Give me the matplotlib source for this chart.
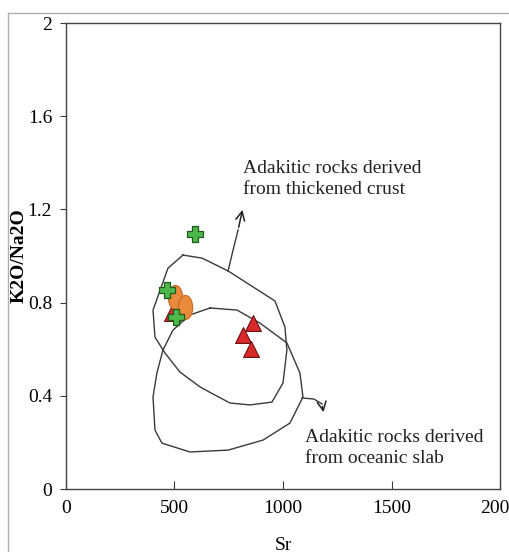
import numpy as np
import matplotlib
matplotlib.use("Agg")
import matplotlib.pyplot as plt
from matplotlib.path import Path
from matplotlib.transforms import Affine2D
from matplotlib.lines import Line2D

plt.rcParams['font.family'] = ['Liberation Serif', 'DejaVu Serif']

# Sample data
cross_sr = [594, 464, 507]
cross_k = [1.094, 0.854, 0.738]
circle_sr = [502, 548]
circle_k = [0.824, 0.781]
tri_sr = [488, 862, 816, 853]
tri_k = [0.755, 0.712, 0.661, 0.601]

# Field outlines
crust_sr = [539, 470, 401, 410, 456, 525, 618, 687, 756, 848, 949, 1000, 1018,
            1009, 963, 747, 627, 539]
crust_k = [1.004, 0.948, 0.768, 0.652, 0.584, 0.502, 0.438, 0.403, 0.369, 0.361,
           0.373, 0.455, 0.597, 0.695, 0.807, 0.936, 0.991, 1.004]
slab_sr = [664, 788, 894, 1018, 1078, 1092, 1032, 908, 747, 571, 442, 410, 401,
           419, 447, 493, 571, 664]
slab_k = [0.777, 0.768, 0.712, 0.627, 0.498, 0.395, 0.283, 0.210, 0.167, 0.159,
          0.197, 0.253, 0.395, 0.498, 0.597, 0.682, 0.747, 0.777]

# Leader lines
arrow1_sr = [747, 770, 793, 816]
arrow1_k = [0.936, 1.026, 1.112, 1.21]
arrow2_sr = [1087, 1143, 1180, 1189]
arrow2_k = [0.391, 0.386, 0.365, 0.318]

fig = plt.figure(figsize=(5.1, 5.52), dpi=100)
ax = fig.add_axes([0.1294, 0.1141, 0.8510, 0.8442])

# light frame around the picture
fig.add_artist(Line2D([8 / 510, 8 / 510], [0, 1 - 13 / 552], transform=fig.transFigure,
                      color='#b0b0b0', lw=1))
fig.add_artist(Line2D([8 / 510, 1], [1 - 13 / 552, 1 - 13 / 552], transform=fig.transFigure,
                      color='#b0b0b0', lw=1))

line_col = '#3a3a3a'
ax.plot(crust_sr, crust_k, color=line_col, lw=1.0)
ax.plot(slab_sr, slab_k, color=line_col, lw=1.0)

ax.plot(arrow1_sr[:-1], arrow1_k[:-1], color=line_col, lw=1.0)
ax.annotate('', xy=(arrow1_sr[-1], arrow1_k[-1]), xytext=(arrow1_sr[-2], arrow1_k[-2]),
            arrowprops=dict(arrowstyle='->', color='#222222', lw=1.1, mutation_scale=16))
ax.plot(arrow2_sr[:-1], arrow2_k[:-1], color=line_col, lw=1.0)
ax.annotate('', xy=(arrow2_sr[-1], arrow2_k[-1]), xytext=(arrow2_sr[-2], arrow2_k[-2]),
            arrowprops=dict(arrowstyle='->', color='#222222', lw=1.1, mutation_scale=16))

# tall oval marker
oval = Path.unit_circle().transformed(Affine2D().scale(0.6, 1.0))

ax.scatter(tri_sr, tri_k, marker='^', s=130, color='#d9292b', edgecolor='#6b1010',
           linewidths=0.8, zorder=3)
ax.scatter(circle_sr, circle_k, marker=oval, s=300, color='#ea8a3c', edgecolor='#c86a28',
           linewidths=0.8, zorder=4)
ax.scatter(cross_sr, cross_k, marker='P', s=120, color='#4cb84a', edgecolor='#1f5a1f',
           linewidths=0.9, zorder=5)

ax.text(816, 1.33, 'Adakitic rocks derived\nfrom thickened crust', fontsize=14,
        va='center', ha='left', linespacing=1.3, color='#222222')
ax.text(1101, 0.176, 'Adakitic rocks derived\nfrom oceanic slab', fontsize=14,
        va='center', ha='left', linespacing=1.3, color='#222222')

ax.set_xlim(0, 2000)
ax.set_ylim(0, 2)
ax.set_xticks([0, 500, 1000, 1500, 2000])
ax.set_yticks([0, 0.4, 0.8, 1.2, 1.6, 2])
ax.set_yticklabels(['0', '0.4', '0.8', '1.2', '1.6', '2'])
ax.tick_params(axis='x', direction='in', length=6, labelsize=14, pad=8, color=line_col)
ax.tick_params(axis='y', direction='out', length=4, labelsize=14, pad=6, color=line_col)
for s in ax.spines.values():
    s.set_color('#444444')
    s.set_linewidth(1.0)

ax.set_xlabel('Sr', fontsize=14, labelpad=14)
ax.set_ylabel('K2O/Na2O', fontsize=14, fontweight='bold')
ax.yaxis.set_label_coords(-0.088, 0.5)

fig.savefig('out.png', dpi=100)
